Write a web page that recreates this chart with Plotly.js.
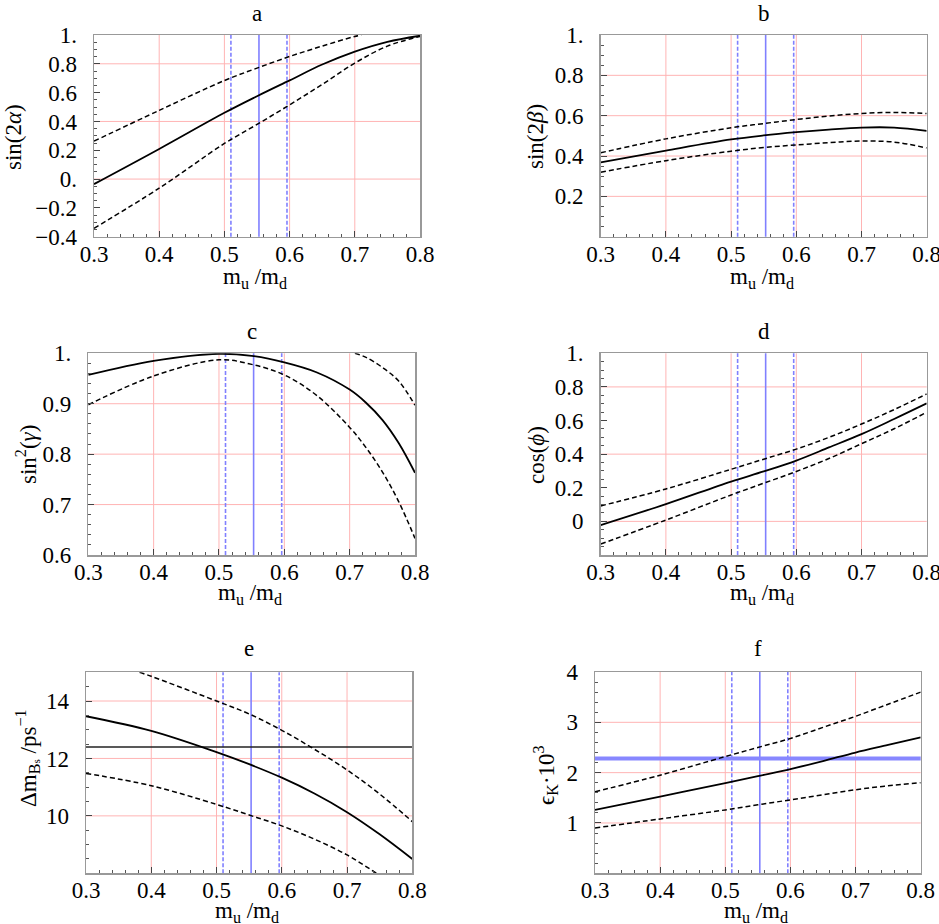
<!DOCTYPE html>
<html>
<head>
<meta charset="utf-8">
<script src="https://cdn.plot.ly/plotly-3.0.1.min.js"></script>
<style>html,body{margin:0;padding:0;background:#fff;}#chart{width:939px;height:924px;}</style>
</head>
<body>
<div id="chart"></div>
<script>
// ---------------- DATA ----------------
const xTicks = [0.3, 0.4, 0.5, 0.6, 0.7, 0.8];
const xTickText = ['0.3', '0.4', '0.5', '0.6', '0.7', '0.8'];
const xGrid = [0.4, 0.5, 0.6, 0.7];

// reference m_u/m_d band
const muCentral = 0.553;
const muLow = 0.51;
const muHigh = 0.596;

// panel a: sin(2 alpha)
const xA = [0.3, 0.4, 0.5, 0.55, 0.6, 0.65, 0.7, 0.75, 0.8];
const solidA = [-0.035, 0.209, 0.46, 0.575, 0.685, 0.795, 0.885, 0.953, 0.995];
const xUpperA = [0.3, 0.4, 0.5, 0.55, 0.6, 0.65, 0.7, 0.71];
const upperA = [0.263, 0.477, 0.684, 0.77, 0.851, 0.923, 0.99, 1.0];
const lowerA = [-0.342, -0.063, 0.247, 0.379, 0.515, 0.657, 0.805, 0.923, 0.99];
const yTicksA = [1, 0.8, 0.6, 0.4, 0.2, 0, -0.2, -0.4];
const yTickTextA = ['1.', '0.8', '0.6', '0.4', '0.2', '0.', '\u22120.2', '\u22120.4'];
const yGridA = [0.8, 0.4, 0];

// panel b: sin(2 beta)
const xB = [0.3, 0.4, 0.5, 0.55, 0.6, 0.65, 0.7, 0.75, 0.8];
const solidB = [0.369, 0.427, 0.482, 0.502, 0.518, 0.531, 0.541, 0.541, 0.525];
const upperB = [0.416, 0.485, 0.54, 0.561, 0.581, 0.598, 0.611, 0.616, 0.611];
const lowerB = [0.32, 0.377, 0.424, 0.442, 0.455, 0.466, 0.474, 0.469, 0.44];
const yTicksB = [1, 0.8, 0.6, 0.4, 0.2];
const yTickTextB = ['1.', '0.8', '0.6', '0.4', '0.2'];
const yGridB = [0.8, 0.6, 0.4, 0.2];

// panel c: sin^2(gamma)
const xC = [0.3, 0.4, 0.5, 0.55, 0.6, 0.65, 0.7, 0.725, 0.75, 0.775, 0.8];
const solidC = [0.957, 0.985, 0.999, 0.995, 0.982, 0.962, 0.928, 0.902, 0.868, 0.822, 0.763];
const lowerC = [0.898, 0.955, 0.987, 0.978, 0.957, 0.916, 0.853, 0.813, 0.765, 0.706, 0.633];
const xUpperC = [0.708, 0.725, 0.75, 0.775, 0.8];
const upperC = [1.0, 0.992, 0.972, 0.945, 0.897];
const yTicksC = [1, 0.9, 0.8, 0.7, 0.6];
const yTickTextC = ['1.', '0.9', '0.8', '0.7', '0.6'];
const yGridC = [0.9, 0.8, 0.7];

// panel d: cos(phi)
const xD = [0.3, 0.4, 0.5, 0.55, 0.6, 0.65, 0.7, 0.75, 0.8];
const solidD = [-0.022, 0.103, 0.237, 0.297, 0.362, 0.44, 0.519, 0.609, 0.702];
const upperD = [0.092, 0.193, 0.31, 0.37, 0.43, 0.50, 0.579, 0.665, 0.758];
const lowerD = [-0.135, 0.008, 0.157, 0.227, 0.297, 0.374, 0.462, 0.551, 0.649];
const yTicksD = [1, 0.8, 0.6, 0.4, 0.2, 0];
const yTickTextD = ['1.', '0.8', '0.6', '0.4', '0.2', '0'];
const yGridD = [0.8, 0.4, 0];

// panel e: Delta m_Bs / ps^-1
const xE = [0.3, 0.4, 0.5, 0.55, 0.6, 0.65, 0.7, 0.75, 0.8];
const solidE = [13.47, 12.96, 12.22, 11.80, 11.33, 10.78, 10.13, 9.36, 8.5];
const xUpperE = [0.382, 0.4, 0.5, 0.55, 0.6, 0.65, 0.7, 0.75, 0.8];
const upperE = [15.0, 14.86, 14.0, 13.55, 12.98, 12.32, 11.6, 10.76, 9.8];
const xLowerE = [0.3, 0.4, 0.5, 0.55, 0.6, 0.65, 0.7, 0.745];
const lowerE = [11.48, 11.05, 10.40, 10.03, 9.65, 9.19, 8.64, 8.0];
const dmBsExp = 12.4;
const yTicksE = [14, 12, 10];
const yTickTextE = ['14', '12', '10'];
const yGridE = [14, 12, 10];

// panel f: eps_K * 10^3
const xF = [0.3, 0.4, 0.5, 0.55, 0.6, 0.65, 0.7, 0.75, 0.8];
const solidF = [1.26, 1.525, 1.79, 1.93, 2.07, 2.23, 2.4, 2.55, 2.70];
const upperF = [1.62, 1.95, 2.32, 2.5, 2.68, 2.9, 3.12, 3.36, 3.6];
const lowerF = [0.9, 1.08, 1.26, 1.36, 1.46, 1.56, 1.66, 1.74, 1.8];
const epsKExp = 2.28;
const yTicksF = [4, 3, 2, 1];
const yTickTextF = ['4', '3', '2', '1'];
const yGridF = [3, 2, 1];

// ---------------- LAYOUT ----------------
const W = 939, H = 924;
const FONT = 'Liberation Serif';
const FS = 23;
const px = v => v / W;
const py = v => 1 - v / H;

const panels = [
  {label: 'a', ytitle: 'sin(2<i>α</i>)', yrange: [-0.4, 1], yt: yTicksA, ytt: yTickTextA, yg: yGridA, ymin: 0.05,
   box: [94, 420, 35, 236.7], ytx: 13, yty: 137, tty: 13, xty: 278,
   curves: [[xA, solidA, 'solid'], [xUpperA, upperA, 'dash'], [xA, lowerA, 'dash']]},
  {label: 'b', ytitle: 'sin(2<i>β</i>)', yrange: [0, 1], yt: yTicksB, ytt: yTickTextB, yg: yGridB, ymin: 0.05,
   box: [600.7, 926.7, 35, 236.7], ytx: 535, yty: 137, tty: 13, xty: 278,
   curves: [[xB, solidB, 'solid'], [xB, upperB, 'dash'], [xB, lowerB, 'dash']]},
  {label: 'c', ytitle: 'sin<sup>2</sup>(<i>γ</i>)', yrange: [0.6, 1], yt: yTicksC, ytt: yTickTextC, yg: yGridC, ymin: 0.02,
   box: [88.3, 415, 353.3, 555], ytx: 26, yty: 455, tty: 331, xty: 594,
   curves: [[xC, solidC, 'solid'], [xUpperC, upperC, 'dash'], [xC, lowerC, 'dash']]},
  {label: 'd', ytitle: 'cos(<i>ϕ</i>)', yrange: [-0.2, 1], yt: yTicksD, ytt: yTickTextD, yg: yGridD, ymin: 0.05,
   box: [600.7, 926.7, 353.3, 555], ytx: 536, yty: 455, tty: 331, xty: 594,
   curves: [[xD, solidD, 'solid'], [xD, upperD, 'dash'], [xD, lowerD, 'dash']]},
  {label: 'e', ytitle: 'Δm<sub>B<span style="font-size:70%">s</span></sub> /ps<sup>−1</sup>', yrange: [8, 15], yt: yTicksE, ytt: yTickTextE, yg: yGridE, ymin: 0.5,
   box: [86, 412.3, 672.3, 873.3], ytx: 27, yty: 758, tty: 648, xty: 912,
   curves: [[xE, solidE, 'solid'], [xUpperE, upperE, 'dash'], [xLowerE, lowerE, 'dash']],
   hline: {v: dmBsExp, color: '#222', width: 1.5}},
  {label: 'f', ytitle: 'ϵ<sub>K</sub>·10<sup>3</sup>', yrange: [0, 4], yt: yTicksF, ytt: yTickTextF, yg: yGridF, ymin: 0.2,
   box: [595, 920.7, 672, 873.3], ytx: 545, yty: 775, tty: 648, xty: 912,
   curves: [[xF, solidF, 'solid'], [xF, upperF, 'dash'], [xF, lowerF, 'dash']],
   hline: {v: epsKExp, color: 'rgb(135,135,255)', width: 4}}
];

const traces = [];
const shapes = [];
const annotations = [];
const layout = {
  width: W, height: H,
  margin: {l: 0, r: 0, t: 0, b: 0},
  paper_bgcolor: '#fff', plot_bgcolor: '#fff',
  showlegend: false,
  font: {family: FONT, size: FS, color: '#000'}
};

const GRID = 'rgb(255,180,180)';
const BLUE = 'rgb(128,128,255)';

panels.forEach((p, i) => {
  const n = i === 0 ? '' : String(i + 1);
  const xa = 'x' + n, ya = 'y' + n;
  const [l, r, t, b] = p.box;
  layout['xaxis' + n] = {
    domain: [px(l), px(r)], anchor: ya, range: [0.3, 0.8],
    tickmode: 'array', tickvals: xTicks, ticktext: xTickText,
    ticks: 'inside', ticklen: 6, tickwidth: 1, tickcolor: '#444',
    minor: {ticks: 'inside', ticklen: 3, tickwidth: 1, tickcolor: '#555', tick0: 0.3, dtick: 0.02, showgrid: false},
    showgrid: false, zeroline: false,
    showline: true, linecolor: '#999', linewidth: 1.5, mirror: true,
    tickfont: {family: FONT, size: FS, color: '#000'}, ticklabelstandoff: -4,
    ticklabeloverflow: 'allow', fixedrange: true
  };
  layout['yaxis' + n] = {
    domain: [py(b), py(t)], anchor: xa, range: p.yrange,
    tickmode: 'array', tickvals: p.yt, ticktext: p.ytt,
    ticks: 'inside', ticklen: 6, tickwidth: 1, tickcolor: '#444',
    minor: {ticks: 'inside', ticklen: 3, tickwidth: 1, tickcolor: '#555', tick0: p.yrange[0], dtick: p.ymin, showgrid: false},
    showgrid: false, zeroline: false,
    showline: true, linecolor: '#999', linewidth: 1.5, mirror: true,
    tickfont: {family: FONT, size: FS, color: '#000'}, ticklabelstandoff: 11,
    ticklabeloverflow: 'allow', fixedrange: true
  };

  xGrid.forEach(v => shapes.push({type: 'line', layer: 'below', xref: xa, yref: ya + ' domain',
    x0: v, x1: v, y0: 0, y1: 1, line: {color: GRID, width: 1}}));
  p.yg.forEach(v => shapes.push({type: 'line', layer: 'below', xref: xa + ' domain', yref: ya,
    x0: 0, x1: 1, y0: v, y1: v, line: {color: GRID, width: 1}}));

  [[muLow, '4px,2px'], [muCentral, 'solid'], [muHigh, '4px,2px']].forEach(([v, d]) =>
    shapes.push({type: 'line', layer: 'below', xref: xa, yref: ya + ' domain',
      x0: v, x1: v, y0: 0, y1: 1, line: {color: BLUE, width: 1.6, dash: d}}));

  if (p.hline) {
    shapes.push({type: 'line', layer: 'below', xref: xa + ' domain', yref: ya,
      x0: 0, x1: 1, y0: p.hline.v, y1: p.hline.v, line: {color: p.hline.color, width: p.hline.width}});
  }

  p.curves.forEach(([xs, ys, d]) => traces.push({
    type: 'scatter', mode: 'lines', x: xs, y: ys, xaxis: xa, yaxis: ya,
    line: {color: '#000', width: d === 'solid' ? 1.8 : 1.5, dash: d === 'solid' ? 'solid' : '5px,3px', shape: 'spline', smoothing: 1.0},
    cliponaxis: true, hoverinfo: 'skip'
  }));

  const cx = (l + r) / 2;
  annotations.push({text: p.label, xref: 'paper', yref: 'paper', x: px(cx), y: py(p.tty),
    xanchor: 'center', yanchor: 'middle', showarrow: false, font: {family: FONT, size: FS, color: '#000'}});
  annotations.push({text: 'm<sub>u</sub> /m<sub>d</sub>', xref: 'paper', yref: 'paper', x: px(cx - 2), y: py(p.xty),
    xanchor: 'center', yanchor: 'middle', showarrow: false, font: {family: FONT, size: FS, color: '#000'}});
  annotations.push({text: p.ytitle, xref: 'paper', yref: 'paper', x: px(p.ytx), y: py(p.yty), textangle: -90,
    xanchor: 'center', yanchor: 'middle', showarrow: false, font: {family: FONT, size: FS, color: '#000'}});
});

layout.shapes = shapes;
layout.annotations = annotations;

Plotly.newPlot('chart', traces, layout, {staticPlot: true, displayModeBar: false});
</script>
</body>
</html>
